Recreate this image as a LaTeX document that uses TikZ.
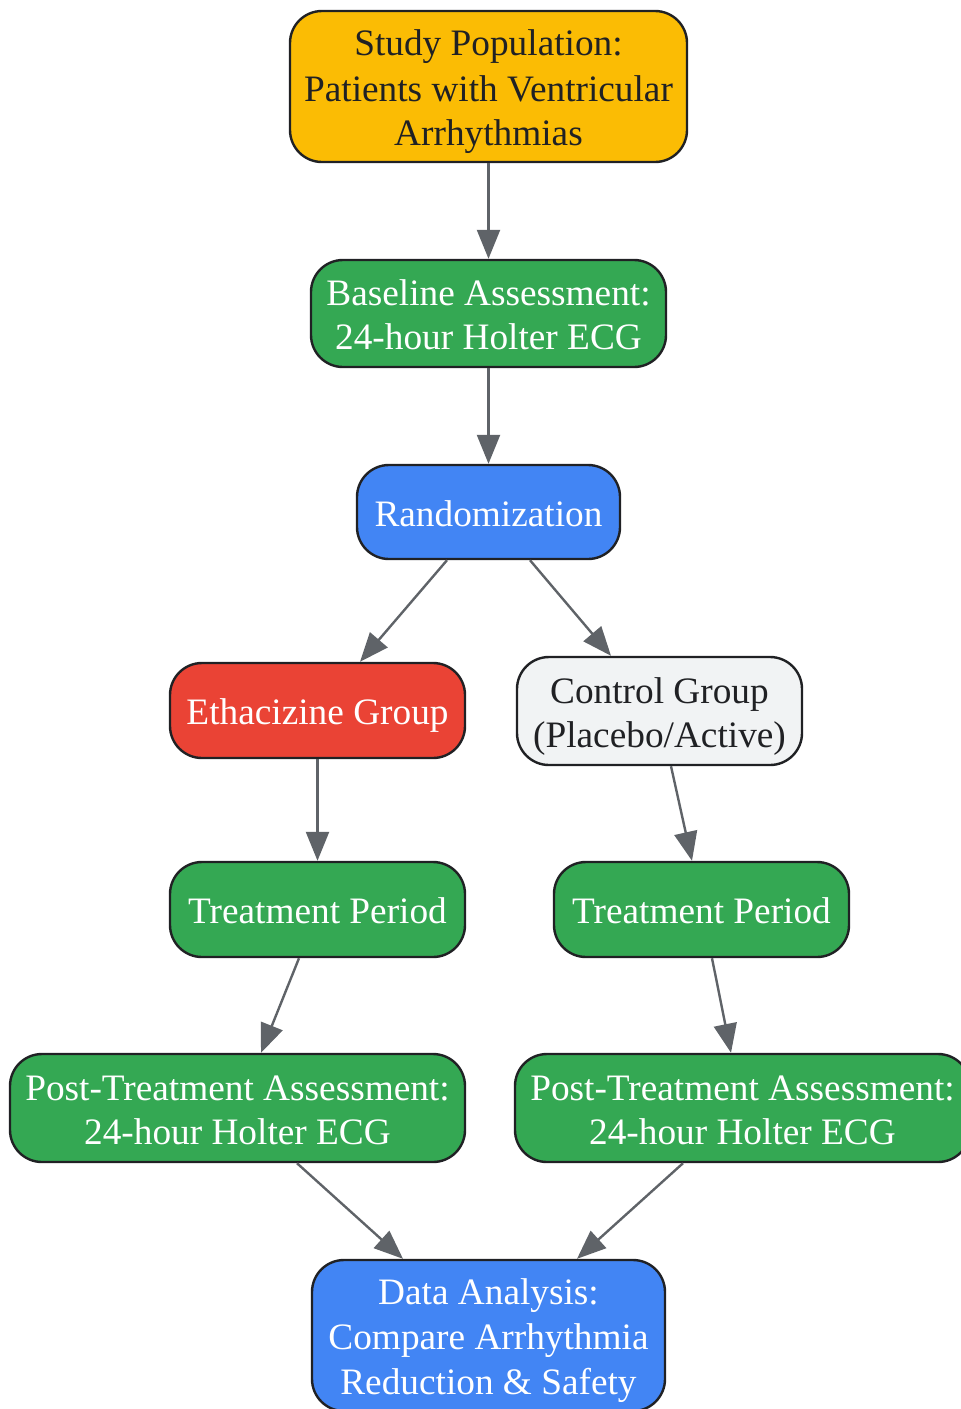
\documentclass[tikz,border=0pt]{standalone}
\usepackage{fontspec}
\setmainfont{Liberation Serif}
\usetikzlibrary{arrows.meta}
\definecolor{cyellow}{HTML}{FBBC04}
\definecolor{cgreen}{HTML}{34A853}
\definecolor{cblue}{HTML}{4285F4}
\definecolor{cred}{HTML}{EA4335}
\definecolor{clight}{HTML}{F1F3F4}
\definecolor{cborder}{HTML}{202124}
\definecolor{carrow}{HTML}{5F6368}
\newcommand\ls{\rule[-8pt]{0pt}{44pt}}
\tikzset{
  box/.style={draw=cborder, line width=2.4pt, rounded corners=32pt, inner sep=0pt,
    align=center, font=\fontsize{37.3}{44}\selectfont},
  darkbox/.style={box, text=cborder},
  lightbox/.style={box, text=white},
  arr/.style={draw=carrow, line width=2.4pt, -{Triangle[length=29pt,width=23pt]}}
}
\begin{document}
\begin{tikzpicture}[x=1pt,y=-1pt]
\useasboundingbox (0,0) rectangle (961,1409);
\node[darkbox, fill=cyellow, minimum width=397pt, minimum height=151pt] (study) at (488.5,86.5)
  {\ls Study Population:\\\ls Patients with Ventricular\\\ls Arrhythmias};
\node[lightbox, fill=cgreen, minimum width=355pt, minimum height=107pt] (base) at (488.5,313.5)
  {\ls Baseline Assessment:\\\ls 24-hour Holter ECG};
\node[lightbox, fill=cblue, minimum width=263pt, minimum height=94pt] (rand) at (488.5,512)
  {\ls Randomization};
\node[lightbox, fill=cred, minimum width=295pt, minimum height=95pt] (eth) at (317.5,710.5)
  {\ls Ethacizine Group};
\node[darkbox, fill=clight, minimum width=285pt, minimum height=108pt] (ctrl) at (659.5,711)
  {\ls Control Group\\\ls (Placebo/Active)};
\node[lightbox, fill=cgreen, minimum width=295pt, minimum height=95pt] (tpl) at (317.5,909.5)
  {\ls Treatment Period};
\node[lightbox, fill=cgreen, minimum width=295pt, minimum height=95pt] (tpr) at (701.5,909.5)
  {\ls Treatment Period};
\node[lightbox, fill=cgreen, minimum width=455pt, minimum height=108pt] (postl) at (237.5,1108)
  {\ls Post-Treatment Assessment:\\\ls 24-hour Holter ECG};
\node[lightbox, fill=cgreen, minimum width=455pt, minimum height=108pt] (postr) at (742.5,1108)
  {\ls Post-Treatment Assessment:\\\ls 24-hour Holter ECG};
\node[lightbox, fill=cblue, minimum width=353pt, minimum height=151pt] (data) at (488.5,1335.5)
  {\ls Data Analysis:\\\ls Compare Arrhythmia\\\ls Reduction \& Safety};

\draw[arr] (study.south) -- (base.north);
\draw[arr] (base.south) -- (rand.north);
\draw[arr] ([xshift=-41.5pt]rand.south) -- ([xshift=42.5pt]eth.north);
\draw[arr] ([xshift=41.5pt]rand.south) -- ([xshift=-48.5pt]ctrl.north);
\draw[arr] (eth.south) -- (tpl.north);
\draw[arr] ([xshift=11.5pt]ctrl.south) -- ([xshift=-9.5pt]tpr.north);
\draw[arr] ([xshift=-18.5pt]tpl.south) -- ([xshift=23.5pt]postl.north);
\draw[arr] ([xshift=10.5pt]tpr.south) -- ([xshift=-11.5pt]postr.north);
\draw[arr] ([xshift=59.5pt]postl.south) -- ([xshift=-85.5pt]data.north);
\draw[arr] ([xshift=-59.5pt]postr.south) -- ([xshift=88.5pt]data.north);
\end{tikzpicture}
\end{document}
